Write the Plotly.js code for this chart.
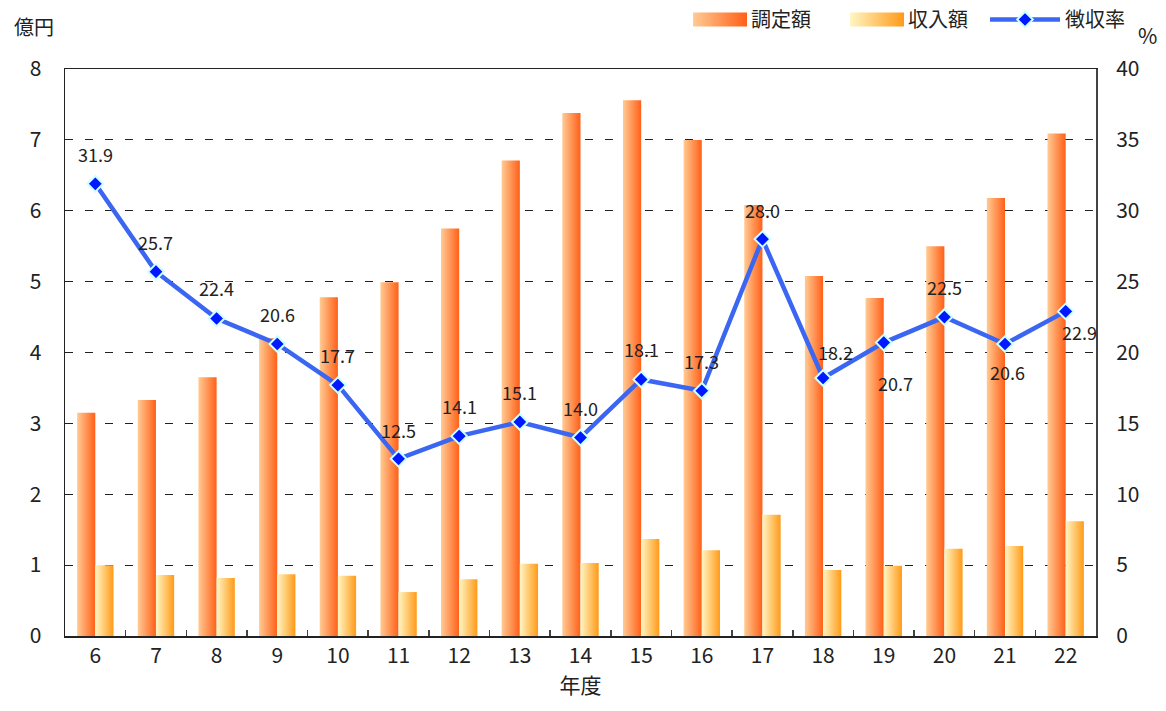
<!DOCTYPE html>
<html>
<head>
<meta charset="utf-8">
<script src="https://cdn.plot.ly/plotly-3.0.1.min.js"></script>
<style>
  html, body { margin: 0; padding: 0; background: #fff; }
  #chart { width: 1166px; height: 711px; }
</style>
</head>
<body>
<div id="chart"></div>
<script>
// 年度 (categories)
const years = ['6', '7', '8', '9', '10', '11', '12', '13', '14', '15', '16', '17', '18', '19', '20', '21', '22'];

// 調定額 (億円)
const assessed = [3.15, 3.33, 3.65, 4.2, 4.78, 4.99, 5.75, 6.71, 7.38, 7.56, 7.0, 6.08, 5.08, 4.77, 5.5, 6.18, 7.09];

// 収入額 (億円)
const received = [1.0, 0.86, 0.82, 0.87, 0.85, 0.62, 0.8, 1.02, 1.03, 1.37, 1.21, 1.71, 0.93, 0.99, 1.23, 1.27, 1.62];

// 徴収率 (%)
const rate = [31.9, 25.7, 22.4, 20.6, 17.7, 12.5, 14.1, 15.1, 14.0, 18.1, 17.3, 28.0, 18.2, 20.7, 22.5, 20.6, 22.9];

// label nudges (px) for the rate labels, default is straight above
const labelDx = [0, 0, 0, 0, 0, 0, 0, 0, 0, 0, 0, 0, 12, 12, 0, 2, 14];
const labelDy = [30, 30, 30, 30, 30, 29, 30, 30, 30, 30, 30, 29, 26, -40, 30, -28, -21];

const FONT = '"Noto Sans CJK JP", "Noto Sans", sans-serif';
const INK = '#222';

const data = [
  {
    type: 'bar',
    name: '調定額',
    x: years,
    y: assessed,
    marker: { color: '#ff8a4a', line: { width: 0 } },
    hoverinfo: 'skip',
  },
  {
    type: 'bar',
    name: '収入額',
    x: years,
    y: received,
    marker: { color: '#ffd070', line: { width: 0 } },
    hoverinfo: 'skip',
  },
  {
    type: 'scatter',
    name: '徴収率',
    x: years,
    y: rate,
    yaxis: 'y2',
    mode: 'lines+markers',
    line: { color: '#3a66f2', width: 4.5 },
    marker: { symbol: 'diamond', size: 12, color: '#0018ff', line: { color: '#ccffff', width: 2 } },
    cliponaxis: false,
    hoverinfo: 'skip',
  },
];

// rate value labels, positioned through the axes (category index on x)
const rateLabels = rate.map((v, i) => ({
  xref: 'x', yref: 'y2',
  x: i, y: v,
  xshift: labelDx[i], yshift: labelDy[i],
  xanchor: 'center', yanchor: 'middle',
  text: v.toFixed(1),
  showarrow: false,
  font: { family: FONT, size: 18, color: INK },
}));

const layout = {
  width: 1166,
  height: 711,
  margin: { l: 65, r: 70, t: 69, b: 75 },
  paper_bgcolor: '#fff',
  plot_bgcolor: '#fff',
  font: { family: FONT, size: 20, color: INK },
  barmode: 'group',
  bargap: 0.4,
  bargroupgap: 0,
  showlegend: true,
  legend: {
    orientation: 'h',
    xref: 'container',
    yref: 'container',
    x: 0.5755,
    xanchor: 'left',
    y: 1,
    yanchor: 'top',
    bgcolor: 'rgba(0,0,0,0)',
    font: { family: FONT, size: 20, color: INK },
    itemwidth: 70,
    entrywidth: 72,
    entrywidthmode: 'pixels',
    traceorder: 'normal',
  },
  xaxis: {
    type: 'category',
    range: [-0.5, years.length - 0.5],
    autorange: false,
    tickson: 'boundaries',
    ticks: 'inside',
    ticklen: 6,
    tickwidth: 1.5,
    tickcolor: '#444',
    showline: true,
    linecolor: INK,
    linewidth: 1.5,
    mirror: true,
    showgrid: false,
    tickfont: { family: FONT, size: 21, color: INK },
    title: { text: '年度', font: { family: FONT, size: 21, color: INK }, standoff: 6 },
  },
  yaxis: {
    range: [0, 8],
    autorange: false,
    dtick: 1,
    showline: true,
    linecolor: INK,
    linewidth: 1.5,
    ticks: '',
    showgrid: true,
    gridcolor: INK,
    gridwidth: 1,
    griddash: '8px,12px',
    zeroline: false,
    tickfont: { family: FONT, size: 21, color: INK },
    ticklabelstandoff: 18,
  },
  yaxis2: {
    overlaying: 'y',
    side: 'right',
    range: [0, 40],
    autorange: false,
    dtick: 5,
    showline: true,
    linecolor: '#444',
    linewidth: 2,
    showgrid: false,
    zeroline: false,
    ticks: '',
    tickfont: { family: FONT, size: 21, color: INK },
    ticklabelstandoff: 14,
  },
  annotations: [
    { xref: 'paper', yref: 'paper', x: -0.03, y: 1.045, xanchor: 'center', yanchor: 'bottom',
      text: '億円', showarrow: false, font: { family: FONT, size: 20, color: INK } },
    { xref: 'paper', yref: 'paper', x: 1.05, y: 1.03, xanchor: 'center', yanchor: 'bottom',
      text: '%', showarrow: false, font: { family: FONT, size: 21, color: INK } },
  ].concat(rateLabels),
};

// horizontal colour ramps for the two bar series
const ramps = [
  { id: 'gradAssessed', from: '#ffcb94', to: '#ff6018' },
  { id: 'gradReceived', from: '#fff6c4', to: '#ff9a18' },
];

function applyGradients(gd) {
  const svg = gd.querySelector('svg.main-svg');
  let defs = svg.querySelector('defs.ramp-defs');
  if (!defs) {
    defs = document.createElementNS('http://www.w3.org/2000/svg', 'defs');
    defs.setAttribute('class', 'ramp-defs');
    ramps.forEach(r => {
      const g = document.createElementNS('http://www.w3.org/2000/svg', 'linearGradient');
      g.setAttribute('id', r.id);
      g.setAttribute('x1', '0'); g.setAttribute('x2', '1');
      g.setAttribute('y1', '0'); g.setAttribute('y2', '0');
      [[0, r.from], [1, r.to]].forEach(([o, c]) => {
        const s = document.createElementNS('http://www.w3.org/2000/svg', 'stop');
        s.setAttribute('offset', o);
        s.setAttribute('stop-color', c);
        g.appendChild(s);
      });
      defs.appendChild(g);
    });
    svg.insertBefore(defs, svg.firstChild);
  }
  // bars
  gd.querySelectorAll('.barlayer .trace.bars').forEach((t, i) => {
    t.querySelectorAll('path').forEach(p => { p.style.fill = `url(#${ramps[i].id})`; });
  });
  // legend swatches: widen into rectangles
  gd.querySelectorAll('.legend .traces').forEach((t, i) => {
    if (i > 1) return;
    t.querySelectorAll('.legendpoints path').forEach(p => {
      p.setAttribute('d', 'M-18,-7H36V7H-18Z');
      p.style.fill = `url(#${ramps[i].id})`;
      p.style.stroke = 'none';
    });
  });
}

const gd = document.getElementById('chart');
Plotly.newPlot(gd, data, layout, { displayModeBar: false, staticPlot: true }).then(() => applyGradients(gd));
gd.on('plotly_afterplot', () => applyGradients(gd));
</script>
</body>
</html>
